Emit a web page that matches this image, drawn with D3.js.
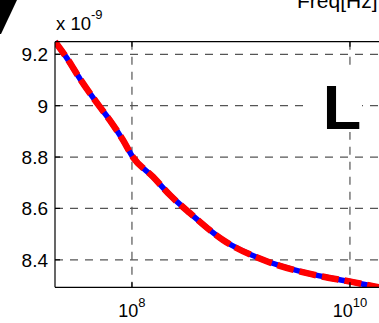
<!DOCTYPE html>
<html>
<head>
<meta charset="utf-8">
<script src="https://cdn.jsdelivr.net/npm/d3@7"></script>
<style>
  html, body { margin: 0; padding: 0; background: #fff; }
  svg { display: block; font-family: "Liberation Sans", Arial, sans-serif; }
</style>
</head>
<body>
<svg id="chart" width="379" height="323"></svg>
<script>
// inductance vs frequency, values in units of 1e-9 H
const freqs = [1.97e7, 2.52e7, 3.34e7, 4.98e7, 6.28e7, 8.27e7, 1.02e8, 1.56e8, 2.23e8,
               3.4e8, 6.84e8, 1.59e9, 4.03e9, 1.07e10, 1.85e10, 2.2e10];
const inductance = [9.249, 9.186, 9.104, 9.0, 8.943, 8.866, 8.8, 8.723, 8.652,
                    8.582, 8.477, 8.4, 8.348, 8.313, 8.293, 8.288];
const xTicks = [1e8, 1e10];
const yTicks = [8.4, 8.6, 8.8, 9.0, 9.2];

const svg = d3.select('#chart');

// plot box (right side runs past the window)
const plotLeft = 55, plotTop = 41.7, plotBottom = 287.3;
const pxPerDecade = 109;
const xMinExp = 7.294, xMaxExp = 10.33;

const x = d3.scaleLog()
  .domain([Math.pow(10, xMinExp), Math.pow(10, xMaxExp)])
  .range([plotLeft, plotLeft + (xMaxExp - xMinExp) * pxPerDecade]);
const y = d3.scaleLinear()
  .domain([8.293, 9.249])
  .range([plotBottom, plotTop]);
const plotRight = x.range()[1];

// grid
const grid = svg.append('g')
  .attr('stroke', '#555')
  .attr('stroke-width', 1.2)
  .attr('stroke-dasharray', '8,7');
yTicks.forEach(v => {
  grid.append('line')
    .attr('x1', plotLeft).attr('x2', plotRight)
    .attr('y1', y(v)).attr('y2', y(v));
});
xTicks.forEach(v => {
  grid.append('line')
    .attr('x1', x(v)).attr('x2', x(v))
    .attr('y1', plotTop).attr('y2', plotBottom);
});

// big "L" label with white box
svg.append('rect')
  .attr('x', 307).attr('y', 68).attr('width', 55).attr('height', 64)
  .attr('fill', '#fff');
svg.append('text')
  .attr('x', 342).attr('y', 128.5)
  .attr('text-anchor', 'middle')
  .style('font-size', '63px')
  .style('font-weight', 'bold')
  .text('L');

// curve: blue solid under red dashed
const line = d3.line()
  .x((d, i) => x(freqs[i]))
  .y(d => y(d))
  .curve(d3.curveMonotoneX);

svg.append('clipPath').attr('id', 'plotclip')
  .append('rect')
  .attr('x', plotLeft).attr('y', plotTop - 4)
  .attr('width', plotRight - plotLeft).attr('height', plotBottom - plotTop + 4);

const curves = svg.append('g').attr('clip-path', 'url(#plotclip)');
curves.append('path')
  .datum(inductance)
  .attr('d', line)
  .attr('fill', 'none')
  .attr('stroke', '#0000ff')
  .attr('stroke-width', 5.5);
curves.append('path')
  .datum(inductance)
  .attr('d', line)
  .attr('fill', 'none')
  .attr('stroke', '#ff0000')
  .attr('stroke-width', 6.5)
  .attr('stroke-dasharray', '17,6');

// axes lines
const axes = svg.append('g').attr('stroke', '#000').attr('stroke-width', 1.2);
axes.append('line').attr('x1', plotLeft).attr('x2', plotLeft).attr('y1', plotTop).attr('y2', plotBottom);
axes.append('line').attr('x1', plotLeft).attr('x2', plotRight).attr('y1', plotTop).attr('y2', plotTop);
axes.append('line').attr('x1', plotLeft).attr('x2', plotRight).attr('y1', plotBottom).attr('y2', plotBottom);

// ticks
xTicks.forEach(v => {
  const px = x(v);
  axes.append('line').attr('x1', px).attr('x2', px).attr('y1', plotBottom).attr('y2', plotBottom - 5);
  axes.append('line').attr('x1', px).attr('x2', px).attr('y1', plotTop).attr('y2', plotTop + 5);
});
yTicks.forEach(v => {
  const py = y(v);
  axes.append('line').attr('x1', plotLeft).attr('x2', plotLeft + 5).attr('y1', py).attr('y2', py);
});

// y tick labels
svg.append('g').selectAll('text')
  .data(yTicks)
  .join('text')
  .attr('x', plotLeft - 7)
  .attr('y', d => y(d) + 7)
  .attr('text-anchor', 'end')
  .style('font-size', '19px')
  .text(d => d3.format('~g')(d));

// x tick labels 10^n
xTicks.forEach(v => {
  const t = svg.append('text')
    .attr('x', x(v))
    .attr('y', 317)
    .attr('text-anchor', 'middle')
    .style('font-size', '18px');
  t.append('tspan').text('10');
  t.append('tspan')
    .attr('dy', -10)
    .style('font-size', '13px')
    .text(Math.round(Math.log10(v)));
});

// exponent label
const ex = svg.append('text')
  .attr('x', 56).attr('y', 30)
  .style('font-size', '18.5px');
ex.append('tspan').text('x 10');
ex.append('tspan').attr('dy', -11).style('font-size', '13px').text('-9');

// axis title, cropped at the top
svg.append('text')
  .attr('x', 297).attr('y', 8)
  .style('font-size', '21px')
  .text('Freq[Hz]');

// piece of a neighbouring panel's glyph
svg.append('path')
  .attr('d', 'M0,0 L17,0 L1,34 L0,34 Z')
  .attr('fill', '#000');
</script>
</body>
</html>
